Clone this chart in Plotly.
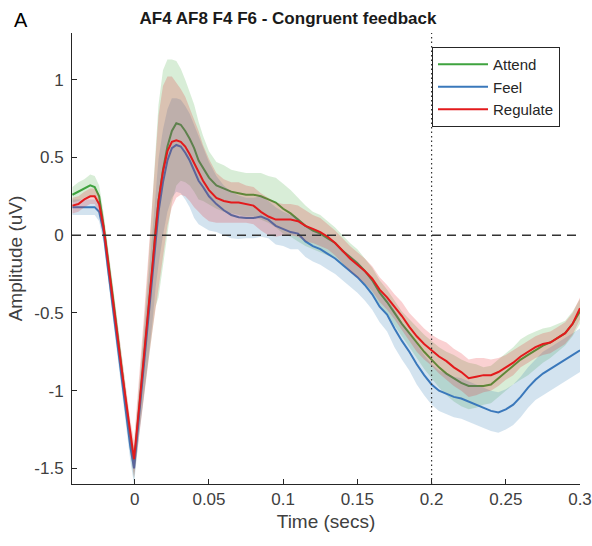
import plotly.graph_objects as go

# ---------------- data ----------------
time_s = [-0.042, -0.038, -0.034, -0.030, -0.027, -0.024, -0.021, -0.018, -0.015, -0.012,
          -0.009, -0.006, -0.003, -0.0005, 0.003, 0.006, 0.009, 0.012, 0.014, 0.016,
          0.019, 0.022, 0.025, 0.028, 0.031, 0.034, 0.037, 0.040, 0.043, 0.046,
          0.050, 0.055, 0.060, 0.065, 0.070, 0.075, 0.080,
          0.085, 0.090, 0.095, 0.100, 0.105, 0.110, 0.115, 0.120, 0.125, 0.130,
          0.135, 0.140, 0.145, 0.150, 0.155, 0.160, 0.165, 0.170, 0.175, 0.180,
          0.185, 0.190, 0.195, 0.200, 0.205, 0.210, 0.215, 0.220, 0.225, 0.230,
          0.235, 0.240, 0.245, 0.250, 0.255, 0.260, 0.265, 0.270, 0.275, 0.280,
          0.285, 0.290, 0.295, 0.300]

attend = [0.26, 0.28, 0.30, 0.32, 0.31, 0.25, 0.06, -0.15, -0.38, -0.61,
          -0.85, -1.08, -1.31, -1.47, -1.12, -0.82, -0.51, -0.20, 0.04, 0.22,
          0.42, 0.57, 0.67, 0.72, 0.71, 0.67, 0.62, 0.56, 0.48, 0.43,
          0.37, 0.32, 0.30, 0.28, 0.27, 0.26, 0.26,
          0.25, 0.23, 0.21, 0.17, 0.14, 0.10, 0.06, 0.03, 0.01, -0.02,
          -0.05, -0.10, -0.14, -0.18, -0.23, -0.29, -0.37, -0.43, -0.50, -0.57,
          -0.63, -0.69, -0.75, -0.80, -0.85, -0.89, -0.92, -0.95, -0.97, -0.97,
          -0.97, -0.96, -0.92, -0.88, -0.84, -0.80, -0.77, -0.74, -0.71, -0.69,
          -0.66, -0.63, -0.57, -0.49]

feel = [0.18, 0.18, 0.18, 0.18, 0.18, 0.15, 0.02, -0.22, -0.45, -0.68,
        -0.92, -1.14, -1.36, -1.50, -1.14, -0.85, -0.55, -0.25, -0.02, 0.15,
        0.34, 0.48, 0.56, 0.58, 0.57, 0.53, 0.48, 0.41, 0.35, 0.31,
        0.25, 0.20, 0.16, 0.13, 0.115, 0.11, 0.11,
        0.12, 0.10, 0.06, 0.04, 0.02, 0.01, -0.04, -0.07, -0.09, -0.12,
        -0.15, -0.19, -0.23, -0.27, -0.32, -0.38, -0.46, -0.51, -0.60, -0.68,
        -0.75, -0.83, -0.90, -0.96, -1.00, -1.02, -1.04, -1.05, -1.07, -1.09,
        -1.11, -1.13, -1.14, -1.12, -1.09, -1.04, -0.98, -0.93, -0.89, -0.86,
        -0.83, -0.80, -0.77, -0.74]

regulate = [0.19, 0.20, 0.23, 0.25, 0.25, 0.20, 0.05, -0.18, -0.40, -0.62,
            -0.85, -1.06, -1.28, -1.44, -1.10, -0.80, -0.49, -0.19, 0.04, 0.22,
            0.41, 0.54, 0.60, 0.61, 0.60, 0.57, 0.52, 0.46, 0.41, 0.35,
            0.29, 0.24, 0.22, 0.21, 0.21, 0.20, 0.19,
            0.15, 0.12, 0.10, 0.10, 0.10, 0.09, 0.06, 0.04, 0.02, -0.01,
            -0.05, -0.10, -0.15, -0.19, -0.23, -0.28, -0.35, -0.40, -0.46, -0.52,
            -0.59, -0.65, -0.70, -0.74, -0.78, -0.81, -0.85, -0.88, -0.92, -0.91,
            -0.90, -0.90, -0.88, -0.85, -0.82, -0.78, -0.75, -0.72, -0.70, -0.69,
            -0.66, -0.63, -0.57, -0.47]

sem_attend = [0.05, 0.06, 0.06, 0.07, 0.07, 0.07, 0.08, 0.08, 0.08, 0.08,
              0.08, 0.08, 0.09, 0.10, 0.15, 0.22, 0.30, 0.40, 0.50, 0.62,
              0.64, 0.56, 0.46, 0.40, 0.36, 0.33, 0.30, 0.28, 0.25, 0.21,
              0.17, 0.15, 0.15, 0.14, 0.14, 0.14, 0.14,
              0.15, 0.15, 0.16, 0.16, 0.15, 0.14, 0.13, 0.12, 0.12, 0.11,
              0.10, 0.10, 0.09, 0.09, 0.08, 0.08, 0.08, 0.08, 0.08, 0.08,
              0.09, 0.10, 0.11, 0.12, 0.13, 0.14, 0.15, 0.15, 0.15, 0.14,
              0.12, 0.12, 0.12, 0.12, 0.12, 0.13, 0.13, 0.12, 0.11, 0.10,
              0.09, 0.08, 0.08, 0.08]

sem_feel = [0.05, 0.05, 0.05, 0.05, 0.05, 0.06, 0.07, 0.08, 0.08, 0.08,
            0.08, 0.08, 0.09, 0.10, 0.14, 0.20, 0.26, 0.30, 0.32, 0.34,
            0.34, 0.33, 0.32, 0.30, 0.30, 0.30, 0.30, 0.30, 0.28, 0.26,
            0.22, 0.18, 0.16, 0.15, 0.14, 0.13, 0.13,
            0.13, 0.12, 0.12, 0.11, 0.11, 0.10, 0.10, 0.10, 0.10, 0.10,
            0.10, 0.10, 0.10, 0.10, 0.10, 0.10, 0.10, 0.11, 0.12, 0.12,
            0.12, 0.13, 0.13, 0.13, 0.13, 0.13, 0.13, 0.13, 0.13, 0.13,
            0.13, 0.13, 0.13, 0.13, 0.13, 0.13, 0.13, 0.13, 0.14, 0.14,
            0.14, 0.14, 0.14, 0.14]

sem_regulate = [0.05, 0.05, 0.05, 0.05, 0.05, 0.06, 0.07, 0.08, 0.08, 0.08,
                0.08, 0.08, 0.09, 0.12, 0.18, 0.26, 0.34, 0.42, 0.50, 0.55,
                0.55, 0.48, 0.42, 0.37, 0.34, 0.32, 0.30, 0.28, 0.26, 0.23,
                0.20, 0.16, 0.14, 0.13, 0.13, 0.12, 0.12,
                0.12, 0.12, 0.11, 0.10, 0.10, 0.10, 0.10, 0.09, 0.09, 0.08,
                0.08, 0.08, 0.08, 0.08, 0.08, 0.08, 0.08, 0.08, 0.08, 0.09,
                0.09, 0.10, 0.10, 0.10, 0.11, 0.12, 0.12, 0.12, 0.12, 0.12,
                0.11, 0.10, 0.09, 0.08, 0.08, 0.07, 0.07, 0.07, 0.07, 0.07,
                0.07, 0.07, 0.07, 0.07]

series_names = ["Attend", "Feel", "Regulate"]
x_tick_vals = [0, 0.05, 0.1, 0.15, 0.2, 0.25, 0.3]
x_tick_text = ["0", "0.05", "0.1", "0.15", "0.2", "0.25", "0.3"]
y_tick_vals = [-1.5, -1, -0.5, 0, 0.5, 1]
y_tick_text = ["-1.5", "-1", "-0.5", "0", "0.5", "1"]
x_range = [-0.0423, 0.3]
y_range = [-1.6, 1.3]
marker_time = 0.2

# ---------------- styling ----------------
line_colors = ["#3fa33f", "#3a78bb", "#e31a1c"]
fill_colors = ["rgba(77,175,74,0.22)", "rgba(55,126,184,0.22)", "rgba(228,26,28,0.2)"]
font_family = "Liberation Sans, Arial, sans-serif"
axis_color = "#262626"
text_color = "#404040"

fig = go.Figure()
for name, mean, sem, lc, fc in zip(series_names, [attend, feel, regulate],
                                   [sem_attend, sem_feel, sem_regulate],
                                   line_colors, fill_colors):
    upper = [m + s for m, s in zip(mean, sem)]
    lower = [m - s for m, s in zip(mean, sem)]
    fig.add_trace(go.Scatter(
        x=time_s + time_s[::-1], y=upper + lower[::-1],
        fill="toself", fillcolor=fc, line=dict(width=0),
        mode="lines", hoverinfo="skip", showlegend=False))
    fig.add_trace(go.Scatter(
        x=time_s, y=mean, mode="lines", name=name,
        line=dict(color=lc, width=2)))

# reference lines
fig.add_shape(type="line", xref="x", yref="y", x0=x_range[0], x1=x_range[1], y0=0, y1=0,
              line=dict(color="#333333", width=1.5, dash="9px,6px"), layer="above")
fig.add_shape(type="line", xref="x", yref="y", x0=marker_time, x1=marker_time,
              y0=y_range[0], y1=y_range[1],
              line=dict(color="#333333", width=1.2, dash="1.5px,3px"), layer="above")

plot_left, plot_right, plot_top, plot_bottom = 72, 580, 33, 484
pw = plot_right - plot_left
ph = plot_bottom - plot_top

fig.update_layout(
    width=592, height=546,
    margin=dict(l=plot_left, r=592 - plot_right, t=plot_top, b=546 - plot_bottom),
    paper_bgcolor="white", plot_bgcolor="white",
    font=dict(family=font_family, color=text_color, size=17),
    title=dict(text="<b>AF4 AF8 F4 F6 - Congruent feedback</b>",
               xref="container", x=288 / 592, xanchor="center",
               yref="container", y=1 - 18 / 546, yanchor="middle",
               font=dict(size=17, color="#1a1a1a", family=font_family)),
    legend=dict(x=(432 - plot_left) / pw, y=1 - (47 - plot_top) / ph,
                xanchor="left", yanchor="top",
                bgcolor="white", bordercolor=axis_color, borderwidth=1,
                font=dict(size=15, color="#262626"), tracegroupgap=0, itemwidth=50),
    showlegend=True,
)
fig.update_xaxes(range=x_range, tickvals=x_tick_vals, ticktext=x_tick_text,
                 ticks="inside", ticklen=5, tickcolor=axis_color,
                 showline=True, linecolor=axis_color, linewidth=1,
                 showgrid=False, zeroline=False, ticklabeloverflow="allow",
                 automargin=False,
                 tickfont=dict(size=17, color=text_color),
                 title=dict(text="Time (secs)", font=dict(size=19, color=text_color), standoff=6))
fig.update_yaxes(range=y_range, tickvals=y_tick_vals, ticktext=y_tick_text,
                 ticks="inside", ticklen=5, tickcolor=axis_color,
                 showline=True, linecolor=axis_color, linewidth=1,
                 showgrid=False, zeroline=False, ticklabelstandoff=4,
                 automargin=False,
                 tickfont=dict(size=17, color=text_color),
                 title=dict(text="Amplitude (uV)", font=dict(size=19, color=text_color), standoff=6))

fig.add_annotation(text="A", xref="paper", yref="paper",
                   x=(21 - plot_left) / pw, y=1 + (plot_top - 20) / ph,
                   xanchor="center", yanchor="middle", showarrow=False,
                   font=dict(size=20, color="#000000", family=font_family))

fig.write_html("out.html")
